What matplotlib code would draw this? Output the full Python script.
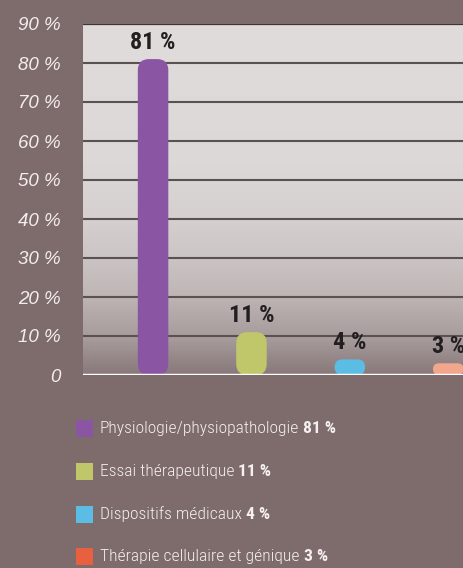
import numpy as np
import matplotlib.pyplot as plt
from matplotlib import font_manager
from matplotlib.patches import FancyBboxPatch, Rectangle
from matplotlib.colors import LinearSegmentedColormap

# données
categories = ['Physiologie/physiopathologie', 'Essai thérapeutique',
              'Dispositifs médicaux', 'Thérapie cellulaire et génique']
values = [81, 11, 4, 3]
bar_colors = ['#8a55a3', '#c0c66a', '#5bbde3', '#f2a78c']
legend_colors = ['#8a55a3', '#c0c66a', '#5bbde3', '#e8603f']
yticks = [0, 10, 20, 30, 40, 50, 60, 70, 80, 90]
ytick_labels = ['0', '10 %', '20 %', '30 %', '40 %', '50 %', '60 %', '70 %', '80 %', '90 %']

BG = '#7e6b6c'


def first_font(names):
    # renvoie la première police installée
    for n in names:
        try:
            font_manager.findfont(font_manager.FontProperties(family=n),
                                  fallback_to_default=False)
            return n
        except ValueError:
            continue
    return 'DejaVu Sans'


narrow = first_font(['Liberation Sans Narrow', 'DejaVu Sans Condensed',
                     'Roboto Condensed', 'Open Sans Condensed', 'Noto Sans Condensed'])
NARROW = [narrow, 'DejaVu Sans']
is_narrow = narrow != 'DejaVu Sans'

W, H = 464, 568
fig = plt.figure(figsize=(W / 100, H / 100), dpi=100, facecolor=BG)
ax = fig.add_axes([83 / W, (H - 375) / H, (W - 83) / W, (375 - 24) / H])
ax.set_facecolor(BG)
ax.set_xlim(-0.712, 3.16)
ax.set_ylim(0, 90)

# fond en dégradé
grad = LinearSegmentedColormap.from_list('g', [
    (0.0, '#887879'), (0.1, '#a69a9a'), (0.22, '#beb4b4'),
    (0.33, '#cbc4c4'), (0.45, '#d6d0d0'), (0.6, '#dcd8d8'), (1.0, '#e0dcdb')])
ax.imshow(np.linspace(0, 1, 256).reshape(-1, 1), cmap=grad, origin='lower',
          extent=[-0.712, 3.16, 0, 90], aspect='auto', zorder=0)

for y in yticks[1:-1]:
    ax.axhline(y, color='#5a5252', lw=1.5, zorder=1)
ax.axhline(90, color='#3e3536', lw=1.6, zorder=1)
ax.axhline(0, color='white', lw=2.5, zorder=4)

# barres arrondies
bw = 0.31
px_x = (W - 83) / 3.872
px_y = 351 / 90
aspect = px_x / px_y
for i, (v, c) in enumerate(zip(values, bar_colors)):
    h_px = v * px_y
    r_px = min(11, h_px / 2)
    p = FancyBboxPatch((i - bw / 2, 0), bw, v,
                       boxstyle='round,pad=0,rounding_size=%f' % (r_px / px_x),
                       mutation_aspect=aspect, fc=c, ec='none', zorder=3)
    ax.add_patch(p)
    ax.annotate('%d %%' % v, (i, v), xytext=(0, 4), textcoords='offset points',
                ha='center', va='bottom', fontsize=17.5 if is_narrow else 14,
                fontweight='bold', family=NARROW, color='#231f20', zorder=5,
                annotation_clip=False)

ax.set_yticks(yticks)
ax.set_yticklabels(ytick_labels, fontsize=13.5, style='italic',
                   family=['Liberation Sans', 'DejaVu Sans'], color='#f4eeee')
ax.tick_params(axis='y', length=0, pad=16)
ax.set_xticks([])
for s in ax.spines.values():
    s.set_visible(False)

# légende
leg_size = 12.6 if is_narrow else 11
row_y = [428.5, 471.5, 514.5, 556.5]
for cat, v, c, yy in zip(categories, values, legend_colors, row_y):
    fig.patches.append(Rectangle((76 / W, (H - yy - 8.5) / H), 17 / W, 17 / H,
                                 transform=fig.transFigure, fc=c, ec='none'))
    t = fig.text(100 / W, (H - yy) / H, cat, fontsize=leg_size, family=NARROW,
                 fontweight='light', color='#f6f0f0', va='center', ha='left')
    ax.annotate(' %d %%' % v, xy=(1, 0.5), xycoords=t, va='center', ha='left',
                fontsize=leg_size, family=NARROW, fontweight='bold', color='#f6f0f0',
                annotation_clip=False)

fig.savefig('out.png', dpi=100, facecolor=BG)
